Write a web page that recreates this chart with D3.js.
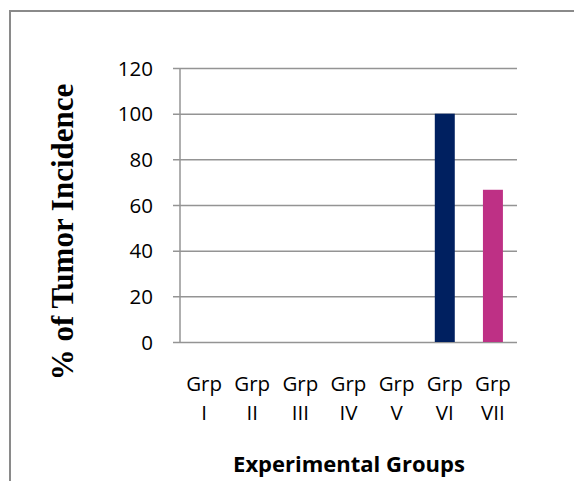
<!DOCTYPE html>
<html>
<head>
<meta charset="utf-8">
<script src="https://cdn.jsdelivr.net/npm/d3@7"></script>
<style>
  html, body { margin: 0; padding: 0; background: #fff; }
  svg { display: block; }
</style>
</head>
<body>
<svg id="chart" width="574" height="481"></svg>
<script>
const groupLines = [["Grp","I"],["Grp","II"],["Grp","III"],["Grp","IV"],["Grp","V"],["Grp","VI"],["Grp","VII"]];
const categories = ["Grp I","Grp II","Grp III","Grp IV","Grp V","Grp VI","Grp VII"];
const incidence = [0, 0, 0, 0, 0, 100, 66.67];
const barColors = ["#4F81BD","#C0504D","#9BBB59","#8064A2","#4BACC6","#002060","#BE3085"];
const yTicks = [0, 20, 40, 60, 80, 100, 120];
const yTitle = "% of Tumor Incidence";
const xTitle = "Experimental Groups";

const svg = d3.select("#chart");
const pLeft = 180, pRight = 517, pTop = 68, pBottom = 342;

// outer frame (cut off at right and bottom)
svg.append("rect")
  .attr("x", 10).attr("y", 11)
  .attr("width", 600).attr("height", 520)
  .attr("fill", "none").attr("stroke", "#8a8a8a").attr("stroke-width", 2);

const x = d3.scaleBand().domain(categories).range([pLeft, pRight])
  .paddingInner(0.585).paddingOuter(0.2925);
const y = d3.scaleLinear().domain([0, 120]).range([pBottom, pTop]);

// gridlines + y ticks
const yAxis = d3.axisLeft(y).tickValues(yTicks).tickSize(-(pRight - pLeft)).tickPadding(27).tickFormat(d3.format("d"));
const gy = svg.append("g").attr("transform", `translate(${pLeft},0)`).call(yAxis);
gy.select(".domain").remove();
gy.selectAll(".tick line").attr("x1", -7).attr("stroke", "#949494").attr("stroke-width", 1.5);
gy.selectAll(".tick text")
  .attr("font-family", "'Open Sans', sans-serif").attr("font-size", 20.5)
  .attr("fill", "#000").attr("dy", "0.35em");

// vertical axis line
svg.append("line").attr("x1", pLeft).attr("x2", pLeft).attr("y1", y(120)).attr("y2", y(0))
  .attr("stroke", "#949494").attr("stroke-width", 1.5);

// bars
svg.append("g").selectAll("rect").data(categories).join("rect")
  .attr("x", d => x(d))
  .attr("width", x.bandwidth())
  .attr("y", (d, i) => y(incidence[i]))
  .attr("height", (d, i) => y(0) - y(incidence[i]))
  .attr("fill", (d, i) => barColors[i]);

// x tick labels (two lines)
const xl = svg.append("g").selectAll("text").data(categories).join("text")
  .attr("text-anchor", "middle")
  .attr("font-family", "'Open Sans', sans-serif").attr("font-size", 20.5)
  .attr("fill", "#000");
xl.append("tspan").attr("x", d => x(d) + x.bandwidth() / 2).attr("y", 391).text((d, i) => groupLines[i][0]);
xl.append("tspan").attr("x", d => x(d) + x.bandwidth() / 2).attr("y", 420).text((d, i) => groupLines[i][1]);

// x title
svg.append("text").attr("x", (pLeft + pRight) / 2 + 0.5).attr("y", 472)
  .attr("text-anchor", "middle")
  .attr("font-family", "'Open Sans', sans-serif").attr("font-weight", "bold").attr("font-size", 22)
  .attr("fill", "#000").text(xTitle);

// y title
svg.append("text").attr("transform", "translate(73,232) rotate(-90)")
  .attr("text-anchor", "middle")
  .attr("font-family", "'Liberation Serif', 'Times New Roman', serif").attr("font-weight", "bold").attr("font-size", 31)
  .attr("fill", "#000").text(yTitle);
</script>
</body>
</html>
